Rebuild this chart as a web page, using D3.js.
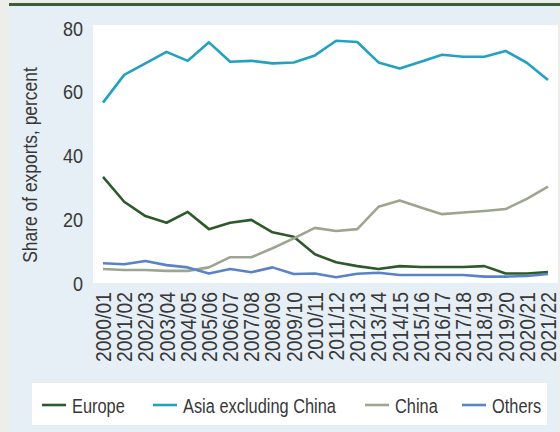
<!DOCTYPE html>
<html>
<head>
<meta charset="utf-8">
<script src="https://cdn.jsdelivr.net/npm/d3@7"></script>
<style>
  html, body { margin: 0; padding: 0; background: #edeeea; }
  svg { display: block; }
  text { font-family: "Liberation Sans", Arial, sans-serif; fill: #383838; }
</style>
</head>
<body>
<svg id="chart" width="560" height="432"></svg>
<script>
const years = ["2000/01","2001/02","2002/03","2003/04","2004/05","2005/06","2006/07","2007/08","2008/09","2009/10","2010/11","2011/12","2012/13","2013/14","2014/15","2015/16","2016/17","2017/18","2018/19","2019/20","2020/21","2021/22"];
const europe = [33.3,25.5,21.0,18.9,22.3,16.9,18.9,19.8,15.9,14.5,9.0,6.5,5.3,4.4,5.3,5.0,5.0,5.0,5.3,3.0,3.0,3.4];
const asiaExChina = [56.6,65.3,68.9,72.5,69.7,75.5,69.4,69.7,68.9,69.2,71.4,76.0,75.6,69.2,67.3,69.4,71.6,71.0,71.0,72.8,69.1,63.7];
const china = [4.4,4.1,4.1,3.8,3.8,4.9,8.1,8.1,10.9,14.0,17.3,16.3,16.9,23.9,25.9,23.7,21.6,22.1,22.6,23.2,26.4,30.2];
const others = [6.2,5.9,6.9,5.6,4.9,3.0,4.4,3.4,4.9,2.8,3.0,1.8,2.9,3.2,2.5,2.5,2.5,2.5,2.0,2.0,2.2,2.8];
const yTicks = [0,20,40,60,80];
const seriesNames = ["Europe","Asia excluding China","China","Others"];
const seriesColors = ["#2e5a2b","#22a1c1","#9da58f","#5a82c9"];
const yTitle = "Share of exports, percent";

const series = [europe, asiaExChina, china, others].map((v,i)=>({name:seriesNames[i], color:seriesColors[i], values:v}));

const svg = d3.select("#chart");
const W = 560, H = 432;

// panel background
svg.append("rect").attr("x",9).attr("y",3).attr("width",549).attr("height",H-3).attr("fill","#e7eff6");
svg.append("rect").attr("x",9).attr("y",3).attr("width",551).attr("height",3).attr("fill","#3c5e39");

const plot = {left:93, right:558, top:25, bottom:283};
svg.append("rect").attr("x",plot.left).attr("y",plot.top).attr("width",plot.right-plot.left).attr("height",plot.bottom-plot.top).attr("fill","#fff");

const x = d3.scalePoint().domain(years).range([103,548]);
const y = d3.scaleLinear().domain([0,80]).range([283,28]);

// y tick labels
svg.append("g").selectAll("text").data(yTicks).join("text")
  .attr("transform",d=>`translate(83,${y(d)}) scale(0.86,1)`)
  .attr("text-anchor","end").attr("dy","0.36em")
  .style("font-size","21px").text(d=>d);

// x tick labels
svg.append("g").selectAll("text").data(years).join("text")
  .attr("transform",d=>`translate(${x(d)},292) rotate(-90) scale(0.88,1)`)
  .attr("text-anchor","end").attr("dy","0.36em")
  .style("font-size","22px").text(d=>d);

// y title
svg.append("text")
  .attr("transform","translate(29,165) rotate(-90) scale(0.83,1)")
  .attr("text-anchor","middle").attr("dy","0.36em")
  .style("font-size","21px").text(yTitle);

// lines
const line = d3.line().x((d,i)=>x(years[i])).y(d=>y(d));
svg.append("g").selectAll("path").data(series).join("path")
  .attr("d",d=>line(d.values))
  .attr("fill","none").attr("stroke",d=>d.color).attr("stroke-width",2.6)
  .attr("stroke-linejoin","round");

// legend
svg.append("rect").attr("x",32).attr("y",383).attr("width",515).attr("height",42).attr("fill","#fff");
const legX = [42,153,365,462];
const lg = svg.append("g").selectAll("g").data(series).join("g")
  .attr("transform",(d,i)=>`translate(${legX[i]},405)`);
lg.append("line").attr("x1",0).attr("x2",24).attr("stroke",d=>d.color).attr("stroke-width",2.6);
lg.append("text").attr("transform","translate(30,0) scale(0.78,1)").attr("dy","0.36em")
  .style("font-size","21px").text(d=>d.name);
</script>
</body>
</html>
